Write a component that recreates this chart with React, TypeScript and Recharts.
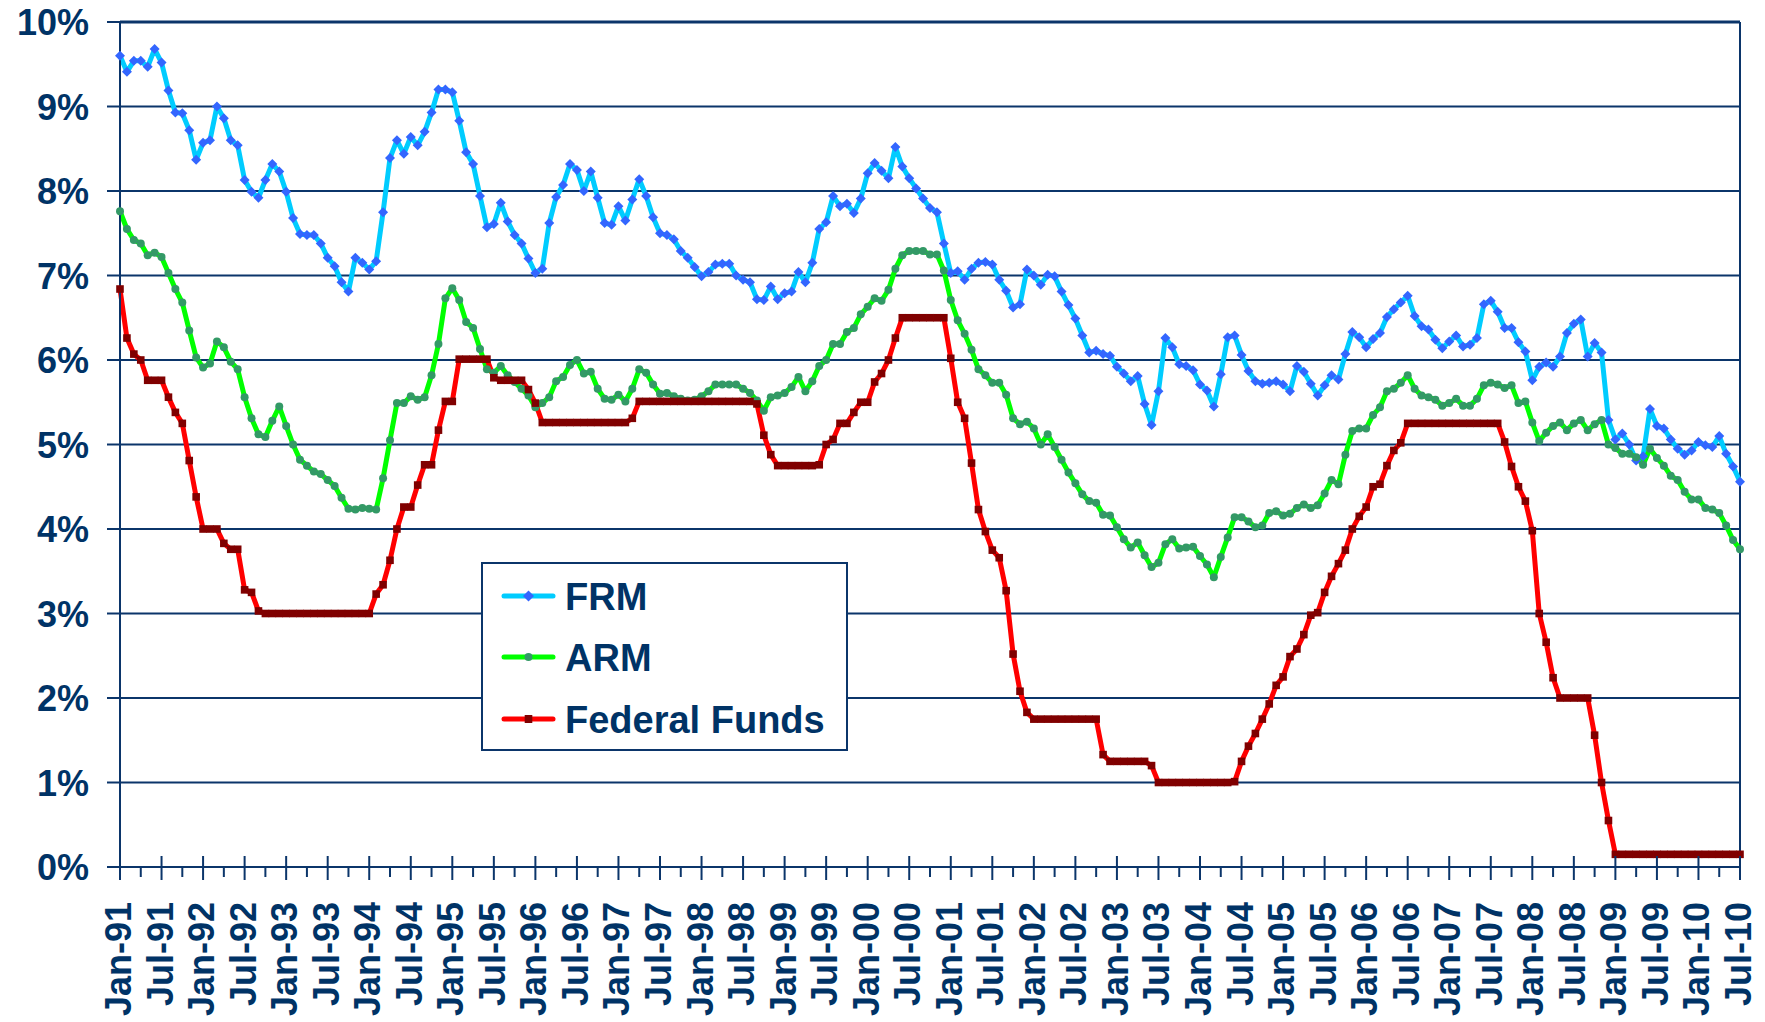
import React from 'react';
import { LineChart, Line, XAxis, YAxis, CartesianGrid, ReferenceLine, Legend } from 'recharts';

const NAVY = '#0B356A';
const TEXT = '#003366';
const FONT = '"Liberation Sans", Arial, Helvetica, sans-serif';

// Monthly series, Jan-1991 .. Jul-2010 (235 months)
const FRM = [
  9.60, 9.41, 9.54, 9.54, 9.47, 9.68, 9.52, 9.19, 8.93, 8.92, 8.72, 8.37,
  8.57, 8.60, 9.00, 8.86, 8.60, 8.54, 8.13, 7.99, 7.92, 8.13, 8.32, 8.23,
  7.99, 7.68, 7.49, 7.48, 7.48, 7.38, 7.21, 7.11, 6.92, 6.81, 7.21, 7.15,
  7.07, 7.17, 7.75, 8.39, 8.60, 8.44, 8.64, 8.54, 8.70, 8.93, 9.20, 9.20,
  9.17, 8.83, 8.46, 8.32, 7.94, 7.57, 7.61, 7.86, 7.64, 7.48, 7.38, 7.20,
  7.03, 7.08, 7.62, 7.93, 8.07, 8.32, 8.25, 8.00, 8.23, 7.92, 7.62, 7.60,
  7.82, 7.65, 7.90, 8.14, 7.94, 7.69, 7.50, 7.48, 7.43, 7.29, 7.21, 7.10,
  6.99, 7.04, 7.13, 7.14, 7.14, 7.00, 6.95, 6.92, 6.72, 6.71, 6.87, 6.72,
  6.79, 6.81, 7.04, 6.92, 7.15, 7.55, 7.63, 7.94, 7.82, 7.85, 7.74, 7.91,
  8.21, 8.33, 8.24, 8.15, 8.52, 8.29, 8.15, 8.03, 7.91, 7.80, 7.75, 7.38,
  7.03, 7.05, 6.95, 7.08, 7.15, 7.16, 7.13, 6.95, 6.82, 6.62, 6.66, 7.07,
  7.00, 6.89, 7.01, 6.99, 6.81, 6.65, 6.49, 6.29, 6.09, 6.11, 6.07, 6.05,
  5.92, 5.84, 5.75, 5.81, 5.48, 5.23, 5.63, 6.26, 6.15, 5.95, 5.93, 5.88,
  5.71, 5.64, 5.45, 5.83, 6.27, 6.29, 6.06, 5.87, 5.75, 5.72, 5.73, 5.75,
  5.71, 5.63, 5.93, 5.86, 5.72, 5.58, 5.70, 5.82, 5.77, 6.07, 6.33, 6.27,
  6.15, 6.25, 6.32, 6.51, 6.60, 6.68, 6.76, 6.52, 6.40, 6.36, 6.24, 6.14,
  6.22, 6.29, 6.16, 6.18, 6.26, 6.66, 6.70, 6.57, 6.38, 6.38, 6.21, 6.10,
  5.76, 5.92, 5.97, 5.92, 6.04, 6.32, 6.43, 6.48, 6.04, 6.20, 6.09, 5.29,
  5.06, 5.13, 5.00, 4.81, 4.86, 5.42, 5.22, 5.19, 5.06, 4.95, 4.88, 4.93,
  5.03, 4.99, 4.97, 5.10, 4.89, 4.74, 4.56,
];

const ARM = [
  7.76, 7.55, 7.42, 7.38, 7.24, 7.27, 7.22, 7.03, 6.84, 6.68, 6.35, 6.03,
  5.91, 5.96, 6.22, 6.15, 5.98, 5.89, 5.56, 5.31, 5.12, 5.09, 5.28, 5.45,
  5.22, 5.00, 4.82, 4.75, 4.68, 4.65, 4.58, 4.51, 4.37, 4.24, 4.23, 4.25,
  4.24, 4.23, 4.60, 5.05, 5.49, 5.49, 5.57, 5.53, 5.56, 5.82, 6.19, 6.73,
  6.85, 6.71, 6.45, 6.38, 6.13, 5.89, 5.85, 5.93, 5.82, 5.74, 5.66, 5.58,
  5.44, 5.49, 5.56, 5.75, 5.80, 5.94, 6.00, 5.84, 5.86, 5.66, 5.54, 5.53,
  5.59, 5.51, 5.66, 5.89, 5.85, 5.71, 5.60, 5.61, 5.57, 5.54, 5.52, 5.53,
  5.57, 5.63, 5.71, 5.71, 5.71, 5.71, 5.66, 5.61, 5.52, 5.40, 5.56, 5.58,
  5.61, 5.68, 5.80, 5.63, 5.75, 5.93, 6.00, 6.19, 6.19, 6.33, 6.38, 6.54,
  6.63, 6.73, 6.70, 6.83, 7.08, 7.24, 7.29, 7.29, 7.29, 7.25, 7.25, 7.06,
  6.71, 6.47, 6.31, 6.12, 5.89, 5.82, 5.73, 5.73, 5.59, 5.31, 5.24, 5.27,
  5.19, 5.00, 5.12, 4.97, 4.82, 4.67, 4.54, 4.41, 4.33, 4.31, 4.17, 4.16,
  4.02, 3.88, 3.78, 3.84, 3.69, 3.55, 3.60, 3.82, 3.88, 3.77, 3.78, 3.79,
  3.68, 3.58, 3.43, 3.67, 3.90, 4.14, 4.14, 4.09, 4.02, 4.04, 4.19, 4.21,
  4.16, 4.18, 4.25, 4.29, 4.25, 4.28, 4.42, 4.58, 4.53, 4.88, 5.16, 5.19,
  5.19, 5.35, 5.44, 5.63, 5.66, 5.73, 5.82, 5.66, 5.58, 5.56, 5.53, 5.46,
  5.49, 5.54, 5.46, 5.46, 5.54, 5.70, 5.73, 5.71, 5.67, 5.70, 5.49, 5.51,
  5.26, 5.04, 5.14, 5.22, 5.26, 5.17, 5.25, 5.29, 5.17, 5.24, 5.29, 5.00,
  4.96, 4.89, 4.89, 4.85, 4.76, 4.95, 4.84, 4.75, 4.63, 4.58, 4.44, 4.35,
  4.35, 4.25, 4.23, 4.19, 4.04, 3.87, 3.76,
];

const FED_FUNDS = [
  6.84, 6.26, 6.07, 6.00, 5.76, 5.76, 5.76, 5.56, 5.38, 5.25, 4.81, 4.38,
  4.00, 4.00, 4.00, 3.83, 3.76, 3.76, 3.28, 3.25, 3.03, 3.00, 3.00, 3.00,
  3.00, 3.00, 3.00, 3.00, 3.00, 3.00, 3.00, 3.00, 3.00, 3.00, 3.00, 3.00,
  3.00, 3.23, 3.34, 3.63, 4.00, 4.26, 4.26, 4.52, 4.76, 4.76, 5.17, 5.51,
  5.51, 6.01, 6.01, 6.01, 6.01, 6.01, 5.79, 5.76, 5.76, 5.76, 5.76, 5.65,
  5.49, 5.26, 5.26, 5.26, 5.26, 5.26, 5.26, 5.26, 5.26, 5.26, 5.26, 5.26,
  5.26, 5.26, 5.31, 5.51, 5.51, 5.51, 5.51, 5.51, 5.51, 5.51, 5.51, 5.51,
  5.51, 5.51, 5.51, 5.51, 5.51, 5.51, 5.51, 5.51, 5.48, 5.11, 4.88, 4.75,
  4.75, 4.75, 4.75, 4.75, 4.75, 4.76, 5.00, 5.06, 5.25, 5.25, 5.38, 5.50,
  5.50, 5.74, 5.84, 6.00, 6.26, 6.50, 6.50, 6.50, 6.50, 6.50, 6.50, 6.50,
  6.02, 5.50, 5.31, 4.78, 4.23, 3.97, 3.75, 3.66, 3.27, 2.52, 2.08, 1.83,
  1.75, 1.75, 1.75, 1.75, 1.75, 1.75, 1.75, 1.75, 1.75, 1.75, 1.33, 1.25,
  1.25, 1.25, 1.25, 1.25, 1.25, 1.20, 1.00, 1.00, 1.00, 1.00, 1.00, 1.00,
  1.00, 1.00, 1.00, 1.00, 1.00, 1.01, 1.25, 1.43, 1.58, 1.75, 1.93, 2.15,
  2.25, 2.49, 2.58, 2.75, 2.98, 3.01, 3.25, 3.44, 3.59, 3.75, 4.00, 4.15,
  4.26, 4.50, 4.53, 4.75, 4.93, 5.02, 5.25, 5.25, 5.25, 5.25, 5.25, 5.25,
  5.25, 5.25, 5.25, 5.25, 5.25, 5.25, 5.25, 5.25, 5.03, 4.74, 4.50, 4.33,
  3.98, 3.00, 2.66, 2.24, 2.00, 2.00, 2.00, 2.00, 2.00, 1.56, 1.00, 0.55,
  0.15, 0.15, 0.15, 0.15, 0.15, 0.15, 0.15, 0.15, 0.15, 0.15, 0.15, 0.15,
  0.15, 0.15, 0.15, 0.15, 0.15, 0.15, 0.15,
];

const MONTH_NAMES = ['Jan', 'Feb', 'Mar', 'Apr', 'May', 'Jun', 'Jul', 'Aug', 'Sep', 'Oct', 'Nov', 'Dec'];
const START_YEAR = 1991;

const TICK_LABELS = [
  'Jan-91', 'Jul-91', 'Jan-92', 'Jul-92', 'Jan-93', 'Jul-93', 'Jan-94', 'Jul-94',
  'Jan-95', 'Jul-95', 'Jan-96', 'Jul-96', 'Jan-97', 'Jul-97', 'Jan-98', 'Jul-98',
  'Jan-99', 'Jul-99', 'Jan-00', 'Jul-00', 'Jan-01', 'Jul-01', 'Jan-02', 'Jul-02',
  'Jan-03', 'Jul-03', 'Jan-04', 'Jul-04', 'Jan-05', 'Jul-05', 'Jan-06', 'Jul-06',
  'Jan-07', 'Jul-07', 'Jan-08', 'Jul-08', 'Jan-09', 'Jul-09', 'Jan-10', 'Jul-10',
];

const Y_TICKS = [0, 1, 2, 3, 4, 5, 6, 7, 8, 9, 10];
const LAST = FRM.length - 1;
const X_TICKS = Array.from({ length: Math.floor(LAST / 3) + 1 }, (_, i) => i * 3);

const data = FRM.map((v, i) => ({
  m: i,
  date: `${MONTH_NAMES[i % 12]}-${String((START_YEAR + Math.floor(i / 12)) % 100).padStart(2, '0')}`,
  FRM: v,
  ARM: ARM[i],
  FF: FED_FUNDS[i],
}));

const XTick = (props: any) => {
  const { x, y, payload } = props;
  const m = payload.value;
  const major = m % 6 === 0;
  const ly = y + 35;
  return (
    <g>
      <line x1={x} x2={x} y1={major ? y - 11 : y} y2={major ? y + 13 : y + 10} stroke={NAVY} strokeWidth={2} />
      {major && (
        <text
          x={x}
          y={ly}
          dy={11}
          transform={`rotate(-90, ${x}, ${ly})`}
          textAnchor="end"
          fill={TEXT}
          fontSize={36}
          fontWeight="bold"
          fontFamily={FONT}
        >
          {TICK_LABELS[m / 6]}
        </text>
      )}
    </g>
  );
};

const YTick = (props: any) => {
  const { x, y, payload } = props;
  return (
    <g>
      <line x1={x - 13} x2={x} y1={y} y2={y} stroke={NAVY} strokeWidth={2} />
      <text x={x - 31} y={y} dy={13} textAnchor="end" fill={TEXT} fontSize={36} fontWeight="bold" fontFamily={FONT}>
        {`${payload.value}%`}
      </text>
    </g>
  );
};

const diamond = (p: any) => {
  const { cx, cy, index } = p;
  if (cx == null || cy == null) return <g key={`d${index}`} />;
  const r = 5;
  return <path key={`d${index}`} d={`M${cx},${cy - r}L${cx + r},${cy}L${cx},${cy + r}L${cx - r},${cy}Z`} fill="#3366FF" />;
};

const circle = (p: any) => {
  const { cx, cy, index } = p;
  if (cx == null || cy == null) return <g key={`c${index}`} />;
  return <circle key={`c${index}`} cx={cx} cy={cy} r={4} fill="#339966" />;
};

const square = (p: any) => {
  const { cx, cy, index } = p;
  if (cx == null || cy == null) return <g key={`s${index}`} />;
  const h = 3.8;
  return <rect key={`s${index}`} x={cx - h} y={cy - h} width={h * 2} height={h * 2} fill="#800000" />;
};

const LEGEND_ITEMS = [
  { name: 'FRM', line: '#00CCFF', marker: 'diamond', color: '#3366FF' },
  { name: 'ARM', line: '#00FF00', marker: 'circle', color: '#339966' },
  { name: 'Federal Funds', line: '#FF0000', marker: 'square', color: '#800000' },
];

const LegendBox = () => {
  const rows = [34, 95, 157];
  return (
    <svg width={367} height={189} style={{ display: 'block' }}>
      <rect x={1} y={1} width={365} height={187} fill="#ffffff" stroke={NAVY} strokeWidth={2} />
      {LEGEND_ITEMS.map((it, i) => {
        const cy = rows[i];
        const cx = 47.5;
        return (
          <g key={it.name}>
            <line x1={23} x2={72} y1={cy} y2={cy} stroke={it.line} strokeWidth={5} strokeLinecap="round" />
            {it.marker === 'diamond' && (
              <path d={`M${cx},${cy - 5.5}L${cx + 5.5},${cy}L${cx},${cy + 5.5}L${cx - 5.5},${cy}Z`} fill={it.color} />
            )}
            {it.marker === 'circle' && <circle cx={cx} cy={cy} r={4} fill={it.color} />}
            {it.marker === 'square' && <rect x={cx - 3.8} y={cy - 4} width={7.6} height={8} fill={it.color} />}
            <text x={84} y={cy} dy={13.5} fill={TEXT} fontSize={38} fontWeight="bold" fontFamily={FONT}>
              {it.name}
            </text>
          </g>
        );
      })}
    </svg>
  );
};

export default function App() {
  return (
    <div style={{ position: 'absolute', left: 0, top: 0, width: 1765, height: 1022, background: '#ffffff' }}>
      <LineChart width={1765} height={1022} data={data} margin={{ top: 22, right: 25, bottom: 0, left: 0 }}>
        <CartesianGrid vertical={false} stroke={NAVY} strokeWidth={2} />
        <XAxis
          dataKey="m"
          type="number"
          domain={[0, LAST]}
          ticks={X_TICKS}
          interval={0}
          tick={<XTick />}
          tickLine={false}
          tickSize={0}
          tickMargin={0}
          height={155}
          axisLine={{ stroke: NAVY, strokeWidth: 2 }}
        />
        <YAxis
          type="number"
          domain={[0, 10]}
          ticks={Y_TICKS}
          interval={0}
          tick={<YTick />}
          tickLine={false}
          tickSize={0}
          tickMargin={0}
          width={120}
          axisLine={{ stroke: NAVY, strokeWidth: 2 }}
        />
        <ReferenceLine y={10} stroke={NAVY} strokeWidth={3} />
        <ReferenceLine x={LAST} stroke={NAVY} strokeWidth={2} />
        <Legend
          layout="vertical"
          align="center"
          verticalAlign="middle"
          content={<LegendBox />}
          wrapperStyle={{ position: 'absolute', left: 481, top: 562, right: 'auto', bottom: 'auto', width: 367, height: 189 }}
        />
        <Line dataKey="FRM" name="FRM" stroke="#00CCFF" strokeWidth={5} strokeLinejoin="round" dot={diamond} activeDot={false} isAnimationActive={false} />
        <Line dataKey="ARM" name="ARM" stroke="#00FF00" strokeWidth={5} strokeLinejoin="round" dot={circle} activeDot={false} isAnimationActive={false} />
        <Line dataKey="FF" name="Federal Funds" stroke="#FF0000" strokeWidth={5} strokeLinejoin="round" dot={square} activeDot={false} isAnimationActive={false} />
      </LineChart>
    </div>
  );
}
